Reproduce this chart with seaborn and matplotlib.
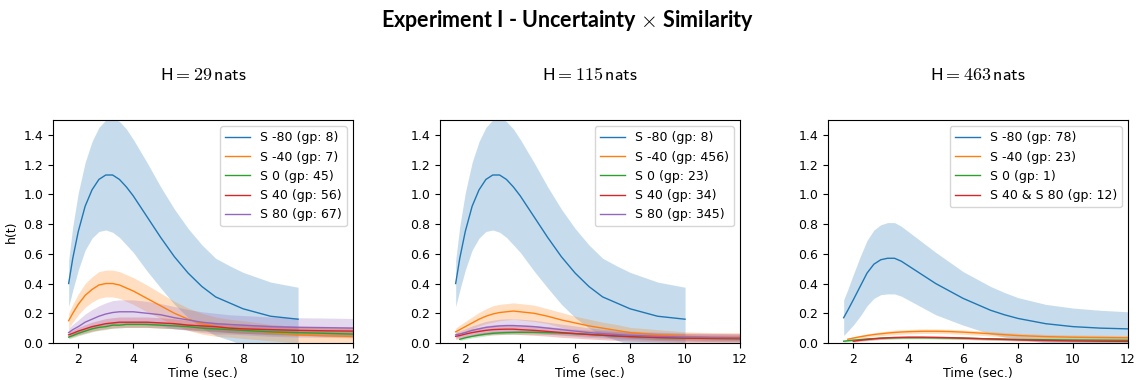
import numpy as np
import pandas as pd
import seaborn as sns
import matplotlib.pyplot as plt

plt.rcParams['mathtext.fontset'] = 'cm'
nan = np.nan

# time grid (sec.)
time = [1.65, 1.8, 2, 2.25, 2.5, 2.75, 3, 3.25, 3.5, 3.75, 4, 4.5, 5, 5.5, 6, 6.5, 7, 7.5, 8, 9, 10, 11, 12]

# H = 29 nats
h29_m80 = [0.40, 0.57, 0.75, 0.92, 1.03, 1.10, 1.13, 1.13, 1.10, 1.05, 0.99, 0.85, 0.71, 0.58, 0.47, 0.38, 0.31, 0.27, 0.23, 0.18, 0.16]
h29_m80_err = [0.155, 0.215, 0.26, 0.295, 0.325, 0.35, 0.37, 0.385, 0.39, 0.39, 0.38, 0.365, 0.34, 0.32, 0.30, 0.28, 0.26, 0.25, 0.245, 0.23, 0.215]
h29_m40 = [0.15, 0.20, 0.26, 0.32, 0.36, 0.39, 0.40, 0.40, 0.39, 0.37, 0.35, 0.30, 0.25, 0.20, 0.16, 0.13, 0.11, 0.10, 0.09, 0.07, 0.055, 0.048, 0.044]
h29_m40_err = [0.05, 0.06, 0.07, 0.08, 0.085, 0.09, 0.09, 0.09, 0.09, 0.09, 0.09, 0.09, 0.085, 0.08, 0.075, 0.07, 0.065, 0.06, 0.06, 0.055, 0.055, 0.055, 0.055]
h29_0 = [0.04, 0.05, 0.065, 0.08, 0.095, 0.105, 0.11, 0.12, 0.12, 0.125, 0.125, 0.125, 0.12, 0.115, 0.11, 0.10, 0.095, 0.09, 0.085, 0.075, 0.07, 0.065, 0.06]
h29_0_err = [0.012, 0.014, 0.016, 0.018, 0.02, 0.02, 0.02, 0.02, 0.02, 0.02, 0.02, 0.02, 0.02, 0.02, 0.02, 0.02, 0.02, 0.02, 0.02, 0.02, 0.02, 0.02, 0.02]
h29_40 = [0.055, 0.065, 0.08, 0.095, 0.11, 0.12, 0.13, 0.135, 0.14, 0.14, 0.14, 0.14, 0.135, 0.13, 0.12, 0.115, 0.11, 0.10, 0.095, 0.09, 0.085, 0.082, 0.08]
h29_40_err = [0.02, 0.022, 0.025, 0.028, 0.03, 0.032, 0.034, 0.035, 0.035, 0.035, 0.035, 0.035, 0.035, 0.033, 0.032, 0.03, 0.03, 0.03, 0.03, 0.03, 0.03, 0.03, 0.03]
h29_80 = [0.07, 0.09, 0.11, 0.14, 0.16, 0.18, 0.195, 0.205, 0.21, 0.21, 0.21, 0.20, 0.19, 0.17, 0.155, 0.14, 0.13, 0.125, 0.12, 0.11, 0.105, 0.103, 0.10]
h29_80_err = [0.03, 0.035, 0.045, 0.055, 0.065, 0.07, 0.075, 0.08, 0.08, 0.08, 0.08, 0.08, 0.075, 0.075, 0.07, 0.07, 0.07, 0.065, 0.065, 0.065, 0.065, 0.065, 0.065]

# H = 115 nats
h115_m80 = h29_m80
h115_m80_err = h29_m80_err
h115_m40 = [0.075, 0.09, 0.11, 0.135, 0.16, 0.18, 0.195, 0.205, 0.21, 0.215, 0.21, 0.20, 0.18, 0.155, 0.135, 0.115, 0.10, 0.085, 0.07, 0.055, 0.045, 0.04, 0.04]
h115_m40_err = [0.025, 0.03, 0.035, 0.04, 0.045, 0.05, 0.055, 0.055, 0.055, 0.055, 0.055, 0.055, 0.05, 0.05, 0.045, 0.045, 0.04, 0.04, 0.035, 0.035, 0.03, 0.03, 0.03]
h115_0 = [nan, 0.025, 0.035, 0.045, 0.053, 0.06, 0.065, 0.068, 0.07, 0.071, 0.072, 0.072, 0.07, 0.067, 0.063, 0.058, 0.053, 0.048, 0.044, 0.037, 0.033, 0.03, 0.028]
h115_0_err = [nan, 0.008, 0.01, 0.01, 0.012, 0.012, 0.012, 0.012, 0.012, 0.012, 0.012, 0.012, 0.012, 0.012, 0.012, 0.012, 0.012, 0.012, 0.012, 0.012, 0.012, 0.012, 0.012]
h115_40 = [0.045, 0.05, 0.06, 0.07, 0.078, 0.085, 0.09, 0.092, 0.093, 0.093, 0.09, 0.085, 0.078, 0.07, 0.063, 0.057, 0.052, 0.047, 0.043, 0.037, 0.033, 0.031, 0.03]
h115_40_err = [0.02, 0.02, 0.022, 0.025, 0.028, 0.03, 0.032, 0.033, 0.033, 0.033, 0.033, 0.033, 0.032, 0.032, 0.03, 0.03, 0.03, 0.03, 0.03, 0.03, 0.03, 0.03, 0.03]
h115_80 = [0.055, 0.06, 0.07, 0.085, 0.095, 0.105, 0.11, 0.115, 0.117, 0.117, 0.115, 0.11, 0.10, 0.09, 0.08, 0.07, 0.063, 0.057, 0.052, 0.045, 0.04, 0.037, 0.035]
h115_80_err = [0.02, 0.022, 0.026, 0.03, 0.035, 0.04, 0.043, 0.045, 0.045, 0.045, 0.045, 0.043, 0.04, 0.037, 0.035, 0.032, 0.03, 0.03, 0.028, 0.028, 0.028, 0.028, 0.028]

# H = 463 nats
h463_m80 = [0.17, 0.22, 0.29, 0.38, 0.47, 0.53, 0.56, 0.57, 0.57, 0.55, 0.52, 0.46, 0.40, 0.35, 0.30, 0.26, 0.22, 0.19, 0.165, 0.13, 0.11, 0.10, 0.095]
h463_m80_err = [0.12, 0.14, 0.17, 0.20, 0.22, 0.23, 0.235, 0.24, 0.24, 0.235, 0.23, 0.22, 0.21, 0.195, 0.18, 0.17, 0.16, 0.15, 0.14, 0.13, 0.125, 0.12, 0.115]
h463_m40 = [nan, 0.025, 0.033, 0.042, 0.05, 0.057, 0.062, 0.067, 0.071, 0.074, 0.076, 0.079, 0.079, 0.077, 0.073, 0.068, 0.062, 0.056, 0.05, 0.043, 0.039, 0.037, 0.035]
h463_m40_err = [nan, 0.008, 0.009, 0.01, 0.011, 0.012, 0.013, 0.014, 0.015, 0.015, 0.015, 0.015, 0.015, 0.015, 0.015, 0.015, 0.015, 0.015, 0.015, 0.015, 0.015, 0.015, 0.015]
h463_0 = [0.012, 0.015, 0.019, 0.023, 0.027, 0.03, 0.032, 0.034, 0.035, 0.036, 0.036, 0.036, 0.035, 0.034, 0.032, 0.03, 0.028, 0.026, 0.024, 0.022, 0.02, 0.019, 0.018]
h463_0_err = [0.006, 0.006, 0.007, 0.007, 0.008, 0.008, 0.008, 0.008, 0.008, 0.008, 0.008, 0.008, 0.008, 0.008, 0.008, 0.008, 0.008, 0.008, 0.008, 0.008, 0.008, 0.008, 0.008]
h463_40_80 = [nan, nan, 0.012, 0.018, 0.023, 0.028, 0.032, 0.035, 0.037, 0.038, 0.039, 0.039, 0.038, 0.036, 0.033, 0.03, 0.027, 0.024, 0.021, 0.017, 0.014, 0.012, 0.011]
h463_40_80_err = [nan, nan, 0.006, 0.007, 0.008, 0.008, 0.008, 0.008, 0.008, 0.008, 0.008, 0.008, 0.008, 0.008, 0.008, 0.008, 0.008, 0.008, 0.008, 0.008, 0.008, 0.008, 0.008]

panels = [
    ("$\\mathsf{H} = \\mathsf{29}\\,\\mathsf{nats}$", [
        ("S -80 (gp: 8)", h29_m80, h29_m80_err),
        ("S -40 (gp: 7)", h29_m40, h29_m40_err),
        ("S 0 (gp: 45)", h29_0, h29_0_err),
        ("S 40 (gp: 56)", h29_40, h29_40_err),
        ("S 80 (gp: 67)", h29_80, h29_80_err),
    ]),
    ("$\\mathsf{H} = \\mathsf{115}\\,\\mathsf{nats}$", [
        ("S -80 (gp: 8)", h115_m80, h115_m80_err),
        ("S -40 (gp: 456)", h115_m40, h115_m40_err),
        ("S 0 (gp: 23)", h115_0, h115_0_err),
        ("S 40 (gp: 34)", h115_40, h115_40_err),
        ("S 80 (gp: 345)", h115_80, h115_80_err),
    ]),
    ("$\\mathsf{H} = \\mathsf{463}\\,\\mathsf{nats}$", [
        ("S -80 (gp: 78)", h463_m80, h463_m80_err),
        ("S -40 (gp: 23)", h463_m40, h463_m40_err),
        ("S 0 (gp: 1)", h463_0, h463_0_err),
        ("S 40 & S 80 (gp: 12)", h463_40_80, h463_40_80_err),
    ]),
]

colors = sns.color_palette("tab10")

fig = plt.figure(figsize=(11.36, 3.8), dpi=100)
lefts = [53, 440, 828]
for k, (title, series) in enumerate(panels):
    ax = fig.add_axes([lefts[k] / 1136, 37 / 380, 300 / 1136, 223 / 380])
    for i, (label, mean, err) in enumerate(series):
        n = len(mean)
        df = pd.DataFrame({"t": time[:n], "h": mean, "e": err}).dropna()
        sns.lineplot(data=df, x="t", y="h", ax=ax, color=colors[i], lw=1, label=label)
        ax.fill_between(df["t"], df["h"] - df["e"], df["h"] + df["e"], color=colors[i], alpha=0.25, lw=0)
    ax.set_xlim(1.08, 12)
    ax.set_ylim(0, 1.5)
    ax.set_yticks(np.arange(0, 1.41, 0.2))
    ax.tick_params(labelsize=9)
    ax.set_xlabel("Time (sec.)", fontsize=9, labelpad=1)
    ax.set_ylabel("h(t)" if k == 0 else "", fontsize=9)
    ax.set_title(title, fontsize=13, pad=29)
    ax.legend(loc="upper right", fontsize=9)

fig.suptitle("Experiment I - Uncertainty $\\times$ Similarity", fontsize=15.5, fontweight="bold",
             family="Lato", y=0.98)
fig.savefig("out.png", dpi=100)
